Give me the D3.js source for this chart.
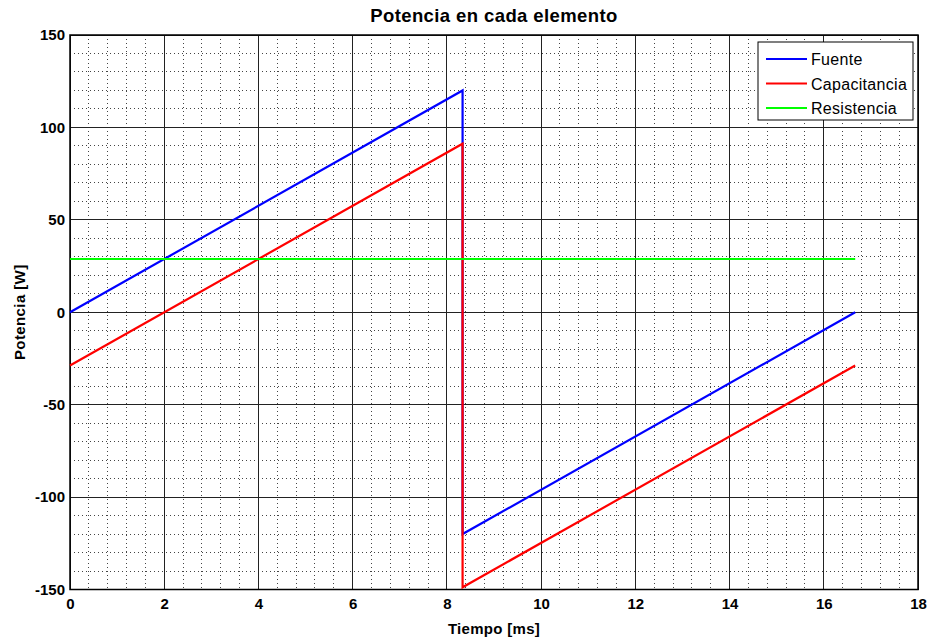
<!DOCTYPE html>
<html><head><meta charset="utf-8">
<script src="https://cdn.jsdelivr.net/npm/d3@7"></script>
<style>body{margin:0;background:#fff}svg{display:block}</style>
</head><body><svg id="c" width="930" height="641"></svg>
<script>
const seriesNames = ["Fuente", "Capacitancia", "Resistencia"];
const seriesColors = ["#0000ff", "#ff0000", "#00ff00"];
const tFuente = [0, 8.333, 8.333, 16.667];
const pFuente = [0, 120, -120, 0];
const tCap = [0, 8.333, 8.333, 16.667];
const pCap = [-28.8, 91.2, -148.8, -28.8];
const tRes = [0, 16.667];
const pRes = [28.8, 28.8];
const xTicks = [0, 2, 4, 6, 8, 10, 12, 14, 16, 18];
const yTicks = [-150, -100, -50, 0, 50, 100, 150];

const svg = d3.select("#c");
const L = 70, R = 918, T = 35, B = 589.5;
const x = d3.scaleLinear().domain([0, 18]).range([L, R]);
const y = d3.scaleLinear().domain([-150, 150]).range([B, T]);
const font = "'Liberation Sans', Arial, sans-serif";

// minor grid
const xMinor = d3.range(0, 18.001, 0.4).filter(v => Math.abs(v / 2 - Math.round(v / 2)) > 1e-6);
const yMinor = d3.range(-150, 150.001, 10).filter(v => v % 50 !== 0);
svg.append("g").selectAll("line").data(xMinor).join("line")
  .attr("x1", d => x(d)).attr("x2", d => x(d)).attr("y1", T).attr("y2", B)
  .attr("stroke", "#444").attr("stroke-width", 1).attr("stroke-dasharray", "1,3").attr("shape-rendering", "crispEdges");
svg.append("g").selectAll("line").data(yMinor).join("line")
  .attr("y1", d => y(d)).attr("y2", d => y(d)).attr("x1", L).attr("x2", R)
  .attr("stroke", "#444").attr("stroke-width", 1).attr("stroke-dasharray", "1,3").attr("shape-rendering", "crispEdges");
// major grid
svg.append("g").selectAll("line").data(xTicks).join("line")
  .attr("x1", d => x(d)).attr("x2", d => x(d)).attr("y1", T).attr("y2", B)
  .attr("stroke", "#222").attr("stroke-width", 1).attr("shape-rendering", "crispEdges");
svg.append("g").selectAll("line").data(yTicks).join("line")
  .attr("y1", d => y(d)).attr("y2", d => y(d)).attr("x1", L).attr("x2", R)
  .attr("stroke", "#222").attr("stroke-width", 1).attr("shape-rendering", "crispEdges");

// frame
svg.append("rect").attr("x", L).attr("y", T).attr("width", R - L).attr("height", B - T)
  .attr("fill", "none").attr("stroke", "#000").attr("stroke-width", 1.5);

// axes labels
const xAxis = d3.axisBottom(x).tickValues(xTicks).tickSize(0).tickPadding(9).tickFormat(d3.format("d"));
const gx = svg.append("g").attr("transform", `translate(0,${B})`).call(xAxis);
const yAxis = d3.axisLeft(y).tickValues(yTicks).tickSize(0).tickPadding(5).tickFormat(d => String(d));
const gy = svg.append("g").attr("transform", `translate(${L},0)`).call(yAxis);
[gx, gy].forEach(g => {
  g.select(".domain").remove();
  g.selectAll("text").attr("font-family", font).attr("font-size", 15).attr("font-weight", "bold").attr("fill", "#000");
});

// lines
const series = [
  {t: tFuente, p: pFuente},
  {t: tCap, p: pCap},
  {t: tRes, p: pRes}
];
const line = d3.line().x(d => x(d[0])).y(d => y(d[1]));
series.forEach((s, i) => {
  svg.append("path").datum(s.t.map((t, j) => [t, s.p[j]]))
    .attr("d", line).attr("fill", "none").attr("stroke", seriesColors[i]).attr("stroke-width", 2.2);
});

// title and labels
svg.append("text").attr("x", (L + R) / 2).attr("y", 22).attr("text-anchor", "middle")
  .attr("font-family", font).attr("font-size", 18.5).attr("font-weight", "bold").attr("letter-spacing", 0.4)
  .text("Potencia en cada elemento");
svg.append("text").attr("x", (L + R) / 2).attr("y", 634).attr("text-anchor", "middle")
  .attr("font-family", font).attr("font-size", 15).attr("font-weight", "bold").attr("letter-spacing", 0.3)
  .text("Tiempo [ms]");
svg.append("text").attr("transform", `translate(25,${(T + B) / 2}) rotate(-90)`).attr("text-anchor", "middle")
  .attr("font-family", font).attr("font-size", 15).attr("font-weight", "bold").attr("letter-spacing", 0.4)
  .text("Potencia [W]");

// legend
const lg = svg.append("g");
lg.append("rect").attr("x", 758).attr("y", 42).attr("width", 155).attr("height", 78)
  .attr("fill", "#fff").attr("stroke", "#000").attr("stroke-width", 1);
seriesNames.forEach((n, i) => {
  const yy = 59 + i * 24.5;
  lg.append("line").attr("x1", 766).attr("x2", 807).attr("y1", yy).attr("y2", yy)
    .attr("stroke", seriesColors[i]).attr("stroke-width", 2);
  lg.append("text").attr("x", 811).attr("y", yy + 6).attr("font-family", font).attr("font-size", 16)
    .attr("letter-spacing", 0.3).attr("fill", "#000").text(n);
});
</script></body></html>
